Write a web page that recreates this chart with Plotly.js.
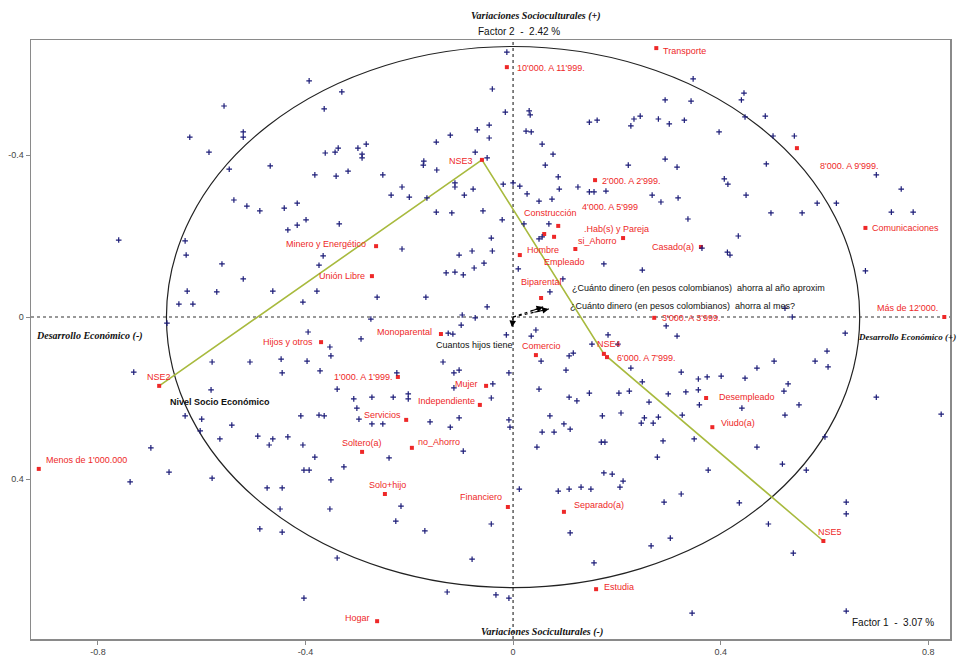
<!DOCTYPE html>
<html><head><meta charset="utf-8">
<script src="https://cdn.plot.ly/plotly-3.0.1.min.js"></script>
<style>html,body{margin:0;padding:0;background:#fff}#chart{width:959px;height:660px}</style>
</head><body><div id="chart"></div>
<script>
// ---- Individuals (blue crosses), factor coordinates ----
const individualsX = [
-0.393,-0.557,-0.364,-0.623,-0.520,-0.520,-0.586,-0.362,-0.343,-0.337,-0.547,-0.468,-0.382,-0.341,-0.538,-0.513,-0.488,-0.441,-0.416,-0.399,-0.416,-0.434,-0.335,-0.760,-0.632,-0.630,-0.366,-0.374,-0.561,-0.520,-0.628,-0.571,-0.463,-0.378,-0.405,-0.644,-0.617,
-0.012,-0.040,-0.330,-0.015,0.031,0.033,-0.069,-0.046,-0.046,0.025,0.035,-0.121,-0.148,-0.299,-0.283,-0.291,-0.291,-0.073,-0.050,-0.172,-0.173,-0.147,-0.318,-0.251,0.056,0.077,0.062,0.147,0.162,0.227,0.233,0.087,-0.019,0.000,0.013,-0.112,-0.112,-0.214,-0.077,-0.235,-0.200,-0.166,-0.094,0.027,0.050,0.075,0.089,0.125,0.147,0.156,0.179,0.222,-0.148,-0.118,-0.058,-0.021,0.021,0.069,0.050,0.056,-0.042,-0.214,-0.104,-0.079,-0.040,-0.056,-0.075,-0.129,-0.112,-0.096,0.010,0.175,0.096,0.071,-0.262,-0.168,-0.050,-0.098,-0.073,-0.274,
0.347,0.293,0.343,0.440,0.445,0.245,0.280,0.301,0.330,0.397,0.447,0.486,0.501,0.542,0.293,0.316,0.488,0.700,0.748,0.407,0.414,0.268,0.285,0.318,0.449,0.586,0.623,0.497,0.557,0.729,0.771,0.337,0.434,0.364,0.413,0.418,0.249,0.679,0.524,0.538,
-0.667,-0.731,-0.580,-0.507,-0.447,-0.397,-0.353,-0.351,-0.445,-0.372,-0.395,-0.582,-0.339,-0.632,-0.600,-0.542,-0.603,-0.565,-0.492,-0.463,-0.470,-0.434,-0.409,-0.374,-0.364,-0.405,-0.382,-0.698,-0.663,-0.738,-0.580,-0.403,-0.393,-0.351,-0.474,-0.445,-0.449,-0.353,-0.488,-0.445,-0.339,-0.403,
-0.293,-0.125,-0.116,-0.100,-0.013,0.044,0.035,-0.135,-0.114,-0.104,-0.224,-0.008,0.054,0.108,0.116,0.102,0.183,0.202,0.152,-0.307,-0.272,-0.301,-0.231,-0.202,-0.202,-0.114,-0.039,-0.042,-0.297,-0.272,-0.251,-0.160,-0.121,-0.104,-0.008,-0.006,0.050,0.071,0.056,0.079,0.098,0.108,0.123,0.110,0.147,0.204,0.224,0.172,0.208,0.227,0.170,0.177,0.046,-0.096,-0.239,-0.326,0.175,0.191,0.212,0.206,0.087,0.108,0.131,0.150,0.012,-0.216,-0.226,-0.170,-0.042,0.110,-0.079,0.156,-0.127,-0.033,-0.008,
0.295,0.316,0.640,0.605,0.582,0.607,0.503,0.470,0.324,0.357,0.374,0.401,0.447,0.249,0.299,0.333,0.357,0.359,0.262,0.326,0.441,0.522,0.530,0.551,0.524,0.253,0.247,0.270,0.280,0.700,0.825,0.289,0.349,0.470,0.601,0.278,0.376,0.519,0.565,0.324,0.291,0.436,0.642,0.642,0.492,0.303,0.266,0.540,0.345,0.642
];
const individualsY = [
-0.583,-0.521,-0.514,-0.444,-0.457,-0.444,-0.407,-0.405,-0.407,-0.417,-0.365,-0.373,-0.351,-0.348,-0.289,-0.274,-0.262,-0.269,-0.281,-0.240,-0.227,-0.215,-0.230,-0.190,-0.188,-0.153,-0.151,-0.128,-0.131,-0.094,-0.064,-0.062,-0.064,-0.064,-0.037,-0.032,-0.032,
-0.654,-0.563,-0.556,-0.506,-0.509,-0.499,-0.462,-0.474,-0.442,-0.459,-0.457,-0.449,-0.432,-0.417,-0.427,-0.402,-0.393,-0.407,-0.393,-0.385,-0.375,-0.363,-0.360,-0.351,-0.427,-0.402,-0.375,-0.481,-0.486,-0.472,-0.489,-0.346,-0.328,-0.331,-0.323,-0.331,-0.321,-0.321,-0.316,-0.301,-0.296,-0.294,-0.301,-0.304,-0.286,-0.291,-0.316,-0.321,-0.309,-0.309,-0.311,-0.375,-0.259,-0.257,-0.262,-0.240,-0.230,-0.230,-0.193,-0.198,-0.195,-0.168,-0.153,-0.163,-0.163,-0.133,-0.121,-0.109,-0.111,-0.104,-0.119,-0.131,-0.094,-0.062,-0.049,-0.049,-0.025,-0.005,0.002,0.005,
-0.588,-0.536,-0.533,-0.536,-0.553,-0.496,-0.489,-0.477,-0.486,-0.457,-0.494,-0.496,-0.447,-0.447,-0.390,-0.370,-0.378,-0.351,-0.316,-0.341,-0.328,-0.301,-0.284,-0.294,-0.301,-0.281,-0.281,-0.257,-0.257,-0.259,-0.259,-0.242,-0.200,-0.170,-0.160,-0.153,-0.116,-0.114,-0.022,0.000,
0.015,0.136,0.111,0.111,0.104,0.109,0.074,0.096,0.138,0.133,0.037,0.180,0.178,0.244,0.252,0.267,0.281,0.301,0.294,0.301,0.316,0.296,0.244,0.242,0.244,0.316,0.346,0.323,0.383,0.407,0.398,0.378,0.378,0.402,0.422,0.422,0.474,0.474,0.523,0.531,0.595,0.694,
0.054,0.040,0.042,0.020,0.044,0.032,0.047,0.111,0.138,0.131,0.138,0.138,0.109,0.096,0.089,0.131,0.044,0.067,0.067,0.202,0.198,0.225,0.198,0.190,0.202,0.175,0.165,0.200,0.252,0.264,0.264,0.259,0.272,0.249,0.254,0.272,0.178,0.244,0.284,0.284,0.264,0.198,0.207,0.277,0.188,0.188,0.183,0.244,0.237,0.126,0.309,0.309,0.321,0.331,0.348,0.370,0.385,0.388,0.405,0.420,0.430,0.425,0.420,0.425,0.425,0.467,0.504,0.528,0.511,0.533,0.598,0.607,0.679,0.686,0.694,
0.022,0.047,0.040,0.084,0.109,0.123,0.109,0.126,0.136,0.153,0.148,0.146,0.151,0.160,0.190,0.185,0.180,0.217,0.210,0.242,0.225,0.183,0.165,0.217,0.242,0.249,0.262,0.262,0.247,0.198,0.240,0.306,0.301,0.321,0.296,0.346,0.378,0.363,0.378,0.437,0.457,0.459,0.457,0.486,0.511,0.546,0.565,0.583,0.731,0.726
];

// ---- Active categories (red squares) ----
const categoryNames = ["Transporte","10'000. A 11'999.","8'000. A 9'999.","NSE3","2'000. A 2'999.","4'000. A 5'999","Construcción",".Hab(s) y Pareja","si_Ahorro","Hombre","Empleado","Casado(a)","Comunicaciones","Minero y Energético","Unión Libre","Biparental","Más de 12'000.","3'000. A 3'999.","Monoparental","Comercio","NSE4","6'000. A 7'999.","Hijos y otros","NSE2","1'000. A 1'999.","Mujer","Independiente","Servicios","Soltero(a)","no_Ahorro","Solo+hijo","Financiero","Separado(a)","Desempleado","Viudo(a)","NSE5","Menos de 1'000.000","Estudia","Hogar"];
const categoryX = [0.276,-0.012,0.547,-0.060,0.158,0.087,0.060,0.079,0.212,0.013,0.120,0.362,0.679,-0.264,-0.272,0.054,0.831,0.272,-0.139,0.044,0.175,0.181,-0.370,-0.682,-0.222,-0.052,-0.064,-0.206,-0.291,-0.195,-0.247,-0.010,0.098,0.372,0.384,0.598,-0.914,0.160,-0.262];
const categoryY = [-0.664,-0.617,-0.417,-0.388,-0.338,-0.225,-0.205,-0.198,-0.195,-0.153,-0.168,-0.173,-0.220,-0.175,-0.101,-0.047,0.000,0.002,0.042,0.094,0.091,0.099,0.062,0.170,0.148,0.170,0.217,0.254,0.333,0.323,0.437,0.469,0.481,0.200,0.272,0.553,0.375,0.672,0.751];

// ---- Trajectory (Nivel Socio Económico) ----
const trajectoryName = "Nivel Socio Económico";
const trajectoryCategories = ["NSE2","NSE3","NSE4","NSE5"];

// ---- Supplementary continuous variables (arrows) ----
const supplementaryNames = ["¿Cuánto dinero (en pesos colombianos)  ahorra al año aproxim","¿Cuánto dinero (en pesos colombianos)  ahorra al mes?","Cuantos hijos tiene"];
const supplementaryX = [0.069,0.058,-0.002];
const supplementaryY = [-0.020,-0.025,0.025];

// ---- Axes ----
const xTickValues = [-0.8,-0.4,0,0.4,0.8];
const yTickValues = [-0.4,0,0.4];
const circleRadius = 0.668;
const factor1Label = "Factor 1  -  3.07 %";
const factor2Label = "Factor 2  -  2.42 %";

// ---- Label placement (style only: pixel offsets dx, dy and anchor) ----
const categoryLabelPlacement = [[5,3,'left'],[8,1,'left'],[21,18,'left'],[-7,1,'right'],[5,1,'left'],[22,-19,'left'],[-22,-21,'left'],[28,-8,'left'],[-4,3,'right'],[5,-5,'left'],[-33,13,'left'],[-5,0,'right'],[5,0,'left'],[-8,-2,'right'],[-5,0,'right'],[-22,-16,'left'],[-4,-9,'right'],[6,0,'left'],[-7,-2,'right'],[-16,-9,'left'],[-9,-10,'left'],[8,1,'left'],[-6,0,'right'],[-14,-9,'left'],[-3,0,'right'],[-6,-2,'right'],[-3,-4,'right'],[-3,-5,'right'],[-22,-9,'left'],[4,-6,'left'],[-18,-9,'left'],[-4,-10,'right'],[8,-7,'left'],[11,-1,'left'],[7,-4,'left'],[-7,-9,'left'],[5,-9,'left'],[6,-2,'left'],[-5,-3,'right']];
const supplementaryLabelPlacement = [[21,-21,'left'],[25,-1,'left'],[3,18,'right']];

const RED = 'rgb(238,40,40)';
const NAVY = 'rgb(28,28,120)';
const SANS = 'Liberation Sans, Arial, sans-serif';
const SERIF = 'Liberation Serif, Times New Roman, serif';

const trajIdx = trajectoryCategories.map(n => categoryNames.indexOf(n));

const traces = [
  {type:'scatter', mode:'lines', x: trajIdx.map(i=>categoryX[i]), y: trajIdx.map(i=>categoryY[i]),
   line:{color:'rgb(168,186,62)', width:1.6}, hoverinfo:'skip', showlegend:false},
  {type:'scatter', mode:'markers', x: categoryX, y: categoryY, text: categoryNames,
   marker:{symbol:'square', size:4, color:RED}, hoverinfo:'text', showlegend:false},
  {type:'scatter', mode:'markers', x: individualsX, y: individualsY,
   marker:{symbol:'cross-thin', size:4, color:NAVY, line:{width:1.2, color:NAVY}}, hoverinfo:'x+y', showlegend:false}
];
// dotted shafts of the supplementary arrows
supplementaryX.forEach((v,i)=>{
  traces.push({type:'scatter', mode:'lines', x:[0, v], y:[0, supplementaryY[i]],
    line:{color:'#000', width:1.2, dash:'dot'}, hoverinfo:'skip', showlegend:false});
});

const annotations = [];
categoryNames.forEach((n,i)=>{
  const p = categoryLabelPlacement[i];
  annotations.push({x:categoryX[i], y:categoryY[i], xref:'x', yref:'y', text:n, showarrow:false,
    xanchor:p[2], yanchor:'middle', xshift:p[0], yshift:-p[1],
    font:{family:SANS, size:9, color:RED}});
});
supplementaryNames.forEach((n,i)=>{
  const p = supplementaryLabelPlacement[i];
  annotations.push({x:supplementaryX[i], y:supplementaryY[i], xref:'x', yref:'y', text:n, showarrow:false,
    xanchor:p[2], yanchor:'middle', xshift:p[0], yshift:-p[1],
    font:{family:SANS, size:9, color:'#111'}});
  annotations.push({x:supplementaryX[i], y:supplementaryY[i], xref:'x', yref:'y', text:'',
    showarrow:true, axref:'x', ayref:'y', ax:supplementaryX[i]*0.55, ay:supplementaryY[i]*0.55,
    arrowhead:2, arrowsize:1.1, arrowwidth:1.2, arrowcolor:'#000'});
});
{
  const i = trajIdx[0];
  annotations.push({x:categoryX[i], y:categoryY[i], xref:'x', yref:'y', text:trajectoryName, showarrow:false,
    xanchor:'left', yanchor:'middle', xshift:9, yshift:-16,
    font:{family:SANS, size:9, color:'#111', weight:'bold'}});
}
// axis captions
annotations.push(
  {xref:'paper', yref:'paper', x:0.55, y:1, yshift:24, text:'<b><i>Variaciones Socioculturales (+)</i></b>', showarrow:false, xanchor:'center', yanchor:'middle', font:{family:SERIF, size:10, color:'#111'}},
  {xref:'paper', yref:'paper', x:0.531, y:1, yshift:9, text:factor2Label, showarrow:false, xanchor:'center', yanchor:'middle', font:{family:SERIF === '' ? SANS : SANS, size:10, color:'#111'}},
  {xref:'paper', yref:'y', x:0, y:0, xshift:3, yshift:-19, text:'<b><i>Desarrollo Económico (-)</i></b>', showarrow:false, xanchor:'left', yanchor:'middle', font:{family:SERIF, size:10, color:'#111'}},
  {xref:'paper', yref:'y', x:1, y:0, xshift:8, yshift:-20, text:'<b><i>Desarrollo Económico (+)</i></b>', showarrow:false, xanchor:'right', yanchor:'middle', font:{family:SERIF, size:9, color:'#111'}},
  {xref:'paper', yref:'paper', x:0.556, y:0, yshift:7, text:'<b><i>Variaciones Sociculturales (-)</i></b>', showarrow:false, xanchor:'center', yanchor:'middle', font:{family:SERIF, size:10, color:'#111'}},
  {xref:'paper', yref:'paper', x:0.985, y:0, yshift:17, text:factor1Label, showarrow:false, xanchor:'right', yanchor:'middle', font:{family:SANS, size:10, color:'#111'}}
);

const layout = {
  width:959, height:660,
  margin:{l:31, r:9, t:40, b:21},
  paper_bgcolor:'#fff', plot_bgcolor:'#fff',
  showlegend:false,
  xaxis:{range:[-0.929,0.842], tickvals:xTickValues, ticktext:xTickValues.map(v=>String(v)),
    showgrid:false, zeroline:false, showline:true, mirror:true, linecolor:'#8a8a8a', linewidth:1.5,
    ticks:'outside', ticklen:4, tickcolor:'#8a8a8a', tickfont:{family:SANS, size:9, color:'#444'}},
  yaxis:{range:[0.795,-0.684], tickvals:yTickValues, ticktext:yTickValues.map(v=>String(v)),
    showgrid:false, zeroline:false, showline:true, mirror:true, linecolor:'#8a8a8a', linewidth:1.5,
    ticks:'outside', ticklen:4, tickcolor:'#8a8a8a', tickfont:{family:SANS, size:9, color:'#444'}},
  shapes:[
    {type:'line', xref:'x', yref:'paper', x0:0, x1:0, y0:0, y1:1, line:{color:'#333', width:1.2, dash:'dot'}, layer:'below'},
    {type:'line', xref:'paper', yref:'y', x0:0, x1:1, y0:0, y1:0, line:{color:'#333', width:1.2, dash:'dot'}, layer:'below'},
    {type:'circle', xref:'x', yref:'y', x0:-circleRadius, x1:circleRadius, y0:-circleRadius, y1:circleRadius, line:{color:'#222', width:1.2}, layer:'below'}
  ],
  annotations: annotations
};
Plotly.newPlot('chart', traces, layout, {displayModeBar:false, staticPlot:true});
</script></body></html>
